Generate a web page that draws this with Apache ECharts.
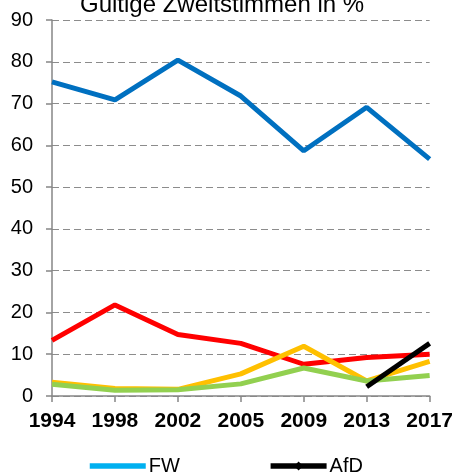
<!DOCTYPE html>
<html>
<head>
<meta charset="utf-8">
<script src="https://cdn.jsdelivr.net/npm/echarts@6/dist/echarts.min.js"></script>
<style>
  html, body { margin: 0; padding: 0; background: #fff; }
  #chart { width: 456px; height: 474px; }
</style>
</head>
<body>
<div id="chart"></div>
<script>
// Wahljahre
const years = ['1994', '1998', '2002', '2005', '2009', '2013', '2017']
// Werte in %
const blue = [75.2, 70.9, 80.4, 71.8, 58.7, 69.1, 56.7]
const red = [13.3, 21.8, 14.7, 12.6, 7.6, 9.2, 10.0]
const yellow = [3.3, 1.8, 1.6, 5.3, 11.9, 3.6, 8.3]
const green = [2.8, 1.4, 1.5, 2.9, 6.7, 3.6, 4.9]
const fw = []
const afd = [null, null, null, null, null, 2.2, 12.6]

const chart = echarts.init(document.getElementById('chart'))

const lineSeries = (name, data, color, extra) => Object.assign({
  name: name,
  type: 'line',
  data: data,
  symbol: 'none',
  lineStyle: { width: 5, color: color },
  itemStyle: { color: color },
  emphasis: { disabled: true }
}, extra || {})

chart.setOption({
  animation: false,
  title: {
    text: 'Gültige Zweitstimmen in %',
    left: 75,
    top: -12,
    textStyle: { fontFamily: 'Liberation Sans', fontSize: 24, fontWeight: 'normal', color: '#000' }
  },
  grid: { left: 52, right: 19, top: 20, bottom: 78 },
  legend: {
    data: [
      { name: 'FW', itemStyle: { opacity: 0 } },
      { name: 'AfD' }
    ],
    left: 82,
    top: 451,
    itemWidth: 56,
    itemHeight: 11,
    itemGap: 88,
    lineStyle: { width: 5.5 },
    textStyle: { fontFamily: 'Liberation Sans', fontSize: 20, color: '#000', padding: [0, 0, 0, -2] }
  },
  xAxis: {
    type: 'category',
    data: years,
    boundaryGap: false,
    axisLine: { lineStyle: { color: '#868686', width: 1.5 } },
    axisTick: { show: true, length: 6, lineStyle: { color: '#868686', width: 1.5 } },
    axisLabel: {
      interval: 0,
      margin: 15,
      fontFamily: 'Liberation Sans',
      fontSize: 21,
      fontWeight: 'bold',
      color: '#000'
    }
  },
  yAxis: {
    type: 'value',
    min: 0,
    max: 90,
    interval: 10,
    axisLine: { show: true, lineStyle: { color: '#868686', width: 1.5 } },
    axisTick: { show: true, length: 6, lineStyle: { color: '#868686', width: 1.5 } },
    axisLabel: {
      margin: 19,
      fontFamily: 'Liberation Sans',
      fontSize: 20,
      color: '#000'
    },
    splitLine: { lineStyle: { color: '#8c8c8c', type: [7, 4], width: 1 } }
  },
  series: [
    lineSeries('Blau', blue, '#0070c0'),
    lineSeries('Rot', red, '#ff0000'),
    lineSeries('Gelb', yellow, '#ffc000'),
    lineSeries('Grün', green, '#92d050'),
    lineSeries('AfD', afd, '#000000', { symbol: 'diamond', symbolSize: 10, showSymbol: false }),
    lineSeries('FW', fw, '#00b0f0')
  ]
})
</script>
</body>
</html>
